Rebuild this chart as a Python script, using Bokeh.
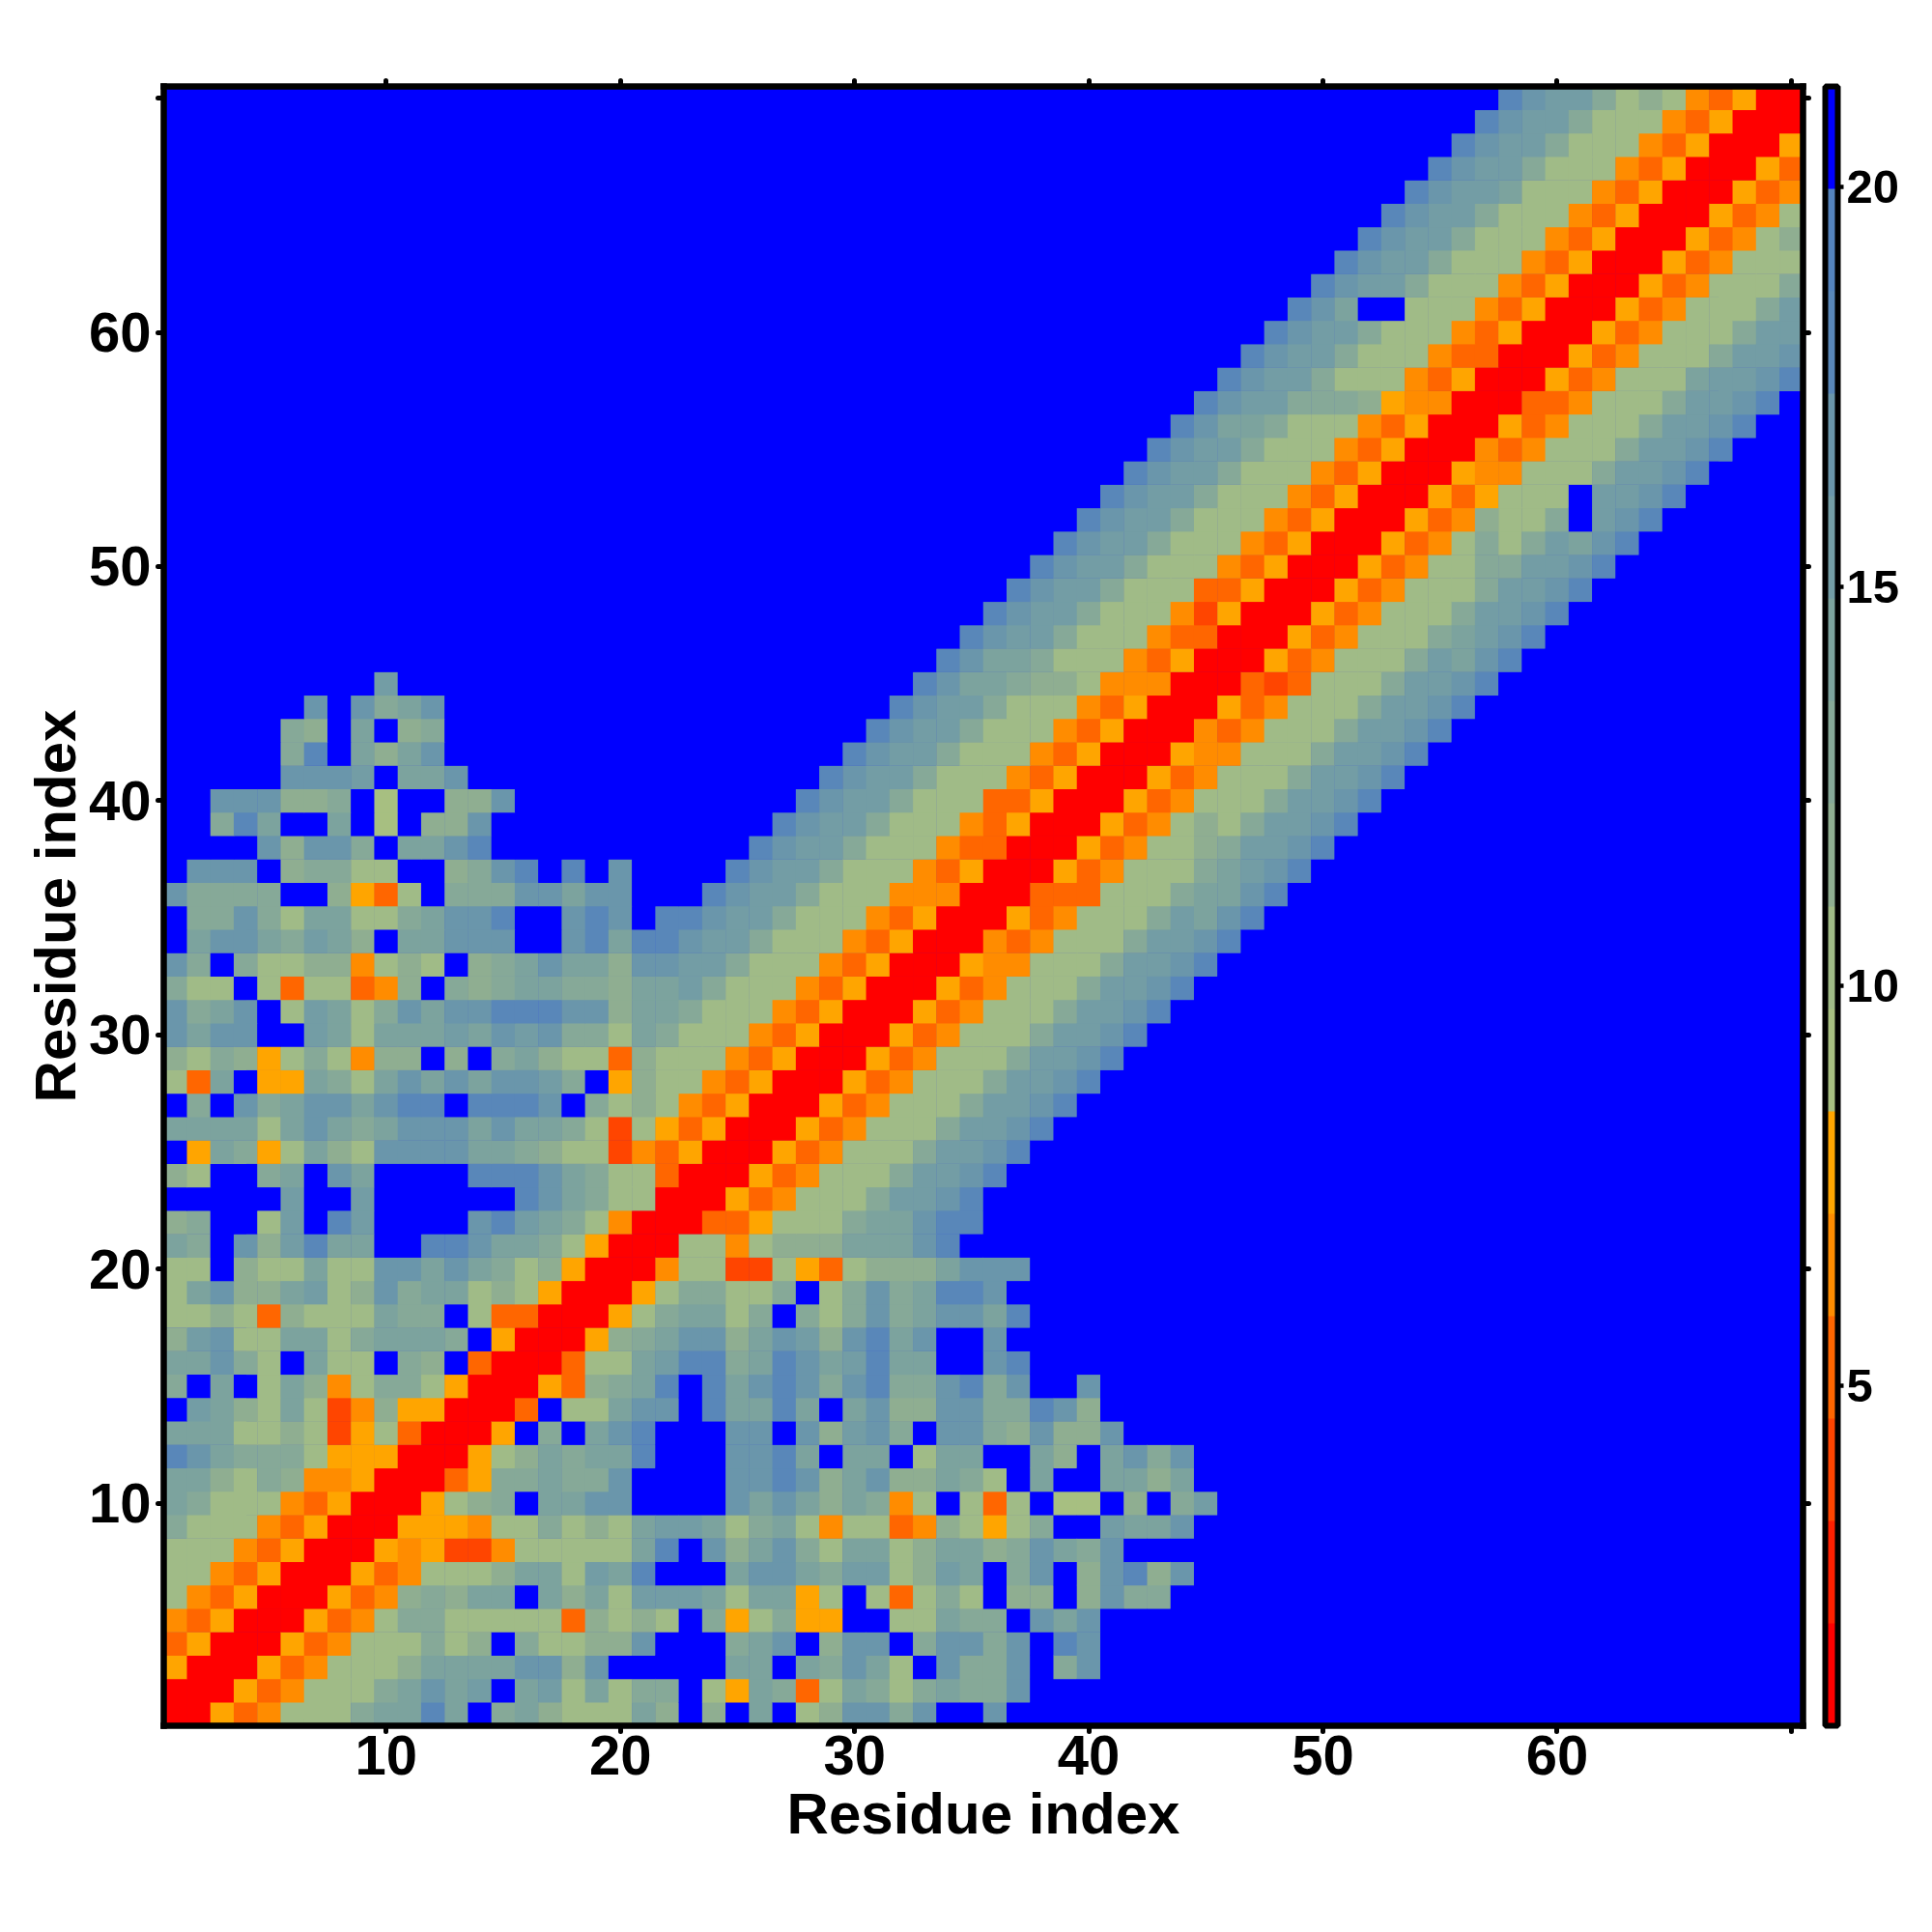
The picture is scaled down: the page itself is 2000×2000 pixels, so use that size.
from bokeh.plotting import figure
from bokeh.embed import file_html
from bokeh.resources import INLINE
from bokeh.models import (ColumnDataSource, LinearColorMapper, ColorBar, FixedTicker,
                          LinearAxis, Range1d)
from bokeh.transform import transform

# Residue-residue distance levels, lower triangle, row y = 1..70, columns x = 1..y.
# Each character is the colour-level index of a cell (f = beyond cutoff).
F = "f"
ROWS = [
 "0", "00", "500", "3500", "43500", "743500", "7743500", "77743500", "977743500", "a977743500",
 "aa879844500", "dca999755500", "aaa7787257300", "fba87a72485500", "9faf7a847997500",
 "aac97fa77f98f300", "8bc77aa79aaa9f500", "778738777a99f73300", "7ac88ab78c9aa787500",
 "77f877a77ccaca978500", "a9fc8bdaaffddcaa97500", "89ff7bfdbffffcdba97400",
 "fffffbffbffffffdca97700", "87ff9afcaffffdddca977300",
 "f5a95"+"7a87c"+"cccaa"+"98772"+"43500",
 "aaaa7"+"aca9a"+"cccac"+"aa972"+"75"+"3"+"5"+"00",
 "f9fc9"+"accac"+"ddfdd"+"dcf97"+"87435"+"00",
 "73af5"+"5a97a"+"cacac"+"cb9f5"+"877"+"435"+"00",
 "87985"+"79748"+"8f8f9"+"a8773"+"87"+"77"+"435"+"00",
 "caccf"+"fba7a"+"aabac"+"bc997"+"a9"+"777"+"435"+"00",
 "c9acf"+"7ba79"+"caccd"+"ddcc8"+"aa"+"9"+"777"+"435"+"00",
 "977f7"+"37734"+"8f989"+"aa998"+"aa"+"b"+"9"+"777"+"435"+"00",
 "c9f97"+"78847"+"87f89"+"acaa8"+"cc"+"bb"+"9"+"777"+"435"+"00",
 "facca"+"9ba8f"+"aaccc"+"ffcda"+"dd"+"c"+"bb"+"9"+"777"+"435"+"00",
 "f99c9"+"7aa77"+"9accd"+"ffcdc"+"f"+"dd"+"c"+"bb"+"9"+"777"+"435"+"00",
 "c9999"+"ff853"+"7f999"+"ccacc"+"fff"+"d"+"c"+"bb"+"9"+"777"+"444"+"00",
 "fcccf"+"89977"+"ff89c"+"dfdfc"+"ffff"+"d"+"c"+"bb"+"9"+"777"+"435"+"00",
 "ffffc"+"8cc9f"+"aacd"+F*11+"dcbb9"+"777"+"4"+"33"+"00",
 "ff9da"+"ffaf6"+"f88c"+F*12+"dcbb9"+"777"+"435"+"00",
 "ffccc"+"889f6"+"ff88c"+F*12+"dcbb9"+"777"+"33"+"5"+"00",
 "fffff"+"cccbf"+"aac"+F*15+"dcbb9"+"777"+"435"+"00",
 "fffff"+"9dfa8"+"ac"+F*17+"dcbb9"+"777"+"435"+"00",
 "fffff"+"98faf"+"89"+F*18+"dcbb9"+"777"+"435"+"00",
 "ffffff"+"cfc9ac"+F*19+"dcbb9"+"777"+"435"+"00",
 F*9+"b"+F*22+"d"+"c"+"aa"+"9"+"88"+"7"+"444"+"00",
 F*33+"dcaa9"+"777"+"435"+"00",
 F*34+"dcbb9"+"777"+"4"+"33"+"00",
 F*35+"dcbb9"+"777"+"4"+"2"+"5"+"00",
 F*36+"dcbb9"+"777"+"33"+"5"+"00",
 F*37+"dcbb9"+"777"+"435"+"00",
 F*38+"dcbb9"+"777"+"435"+"00",
 F*39+"dcbb9"+"777"+"435"+"00",
 F*40+"dcbb9"+"777"+"435"+"00",
 F*41+"dcbb9"+"777"+"435"+"00",
 F*42+"dcbb9"+"777"+"435"+"00",
 F*43+"dcaa9"+"777"+"435"+"00",
 F*44+"dcbb9"+"99"+"8"+"5"+"44"+"00",
 F*45+"dcbb9"+"777"+"435"+"00",
 F*46+"dcbb9"+"777"+"4"+"33"+"00",
 F*47+"dcbb9"+"777"+"435"+"00",
 F*48+"dca"+"ff"+"777"+"435"+"00",
 F*49+"dcbb9"+"777"+"435"+"00",
 F*50+"dcbb9"+"777"+"435"+"00",
 F*51+"dcbb9"+"777"+"435"+"00",
 F*52+"dcbb9"+"777"+"435"+"00",
 F*53+"dcbba"+"777"+"435"+"00",
 F*54+"dcbb9"+"777"+"435"+"00",
 F*55+"dcbb9"+"777"+"435"+"00",
 F*56+"dcbb9"+"777"+"435"+"00",
 F*57+"dcbb9"+"787"+"435"+"00",
]

PALETTE = ["#ff0000", "#ff2000", "#ff4500", "#ff6600", "#ff8c00", "#ffa500",
           "#a7bf81", "#a0bb87", "#8fae91", "#86a998", "#7ca39e", "#739da5",
           "#6a96ab", "#5987b9", "#5483bd", "#0000ff"]
D_LOW, D_HIGH = 0.74, 21.26
X_TICKS = [10, 20, 30, 40, 50, 60, 70]
CB_TICKS = [5, 10, 15, 20]
TITLE = "Residue index"

step = (D_HIGH - D_LOW) / len(PALETTE)
xs, ys, ds = [], [], []
for yi, row in enumerate(ROWS, start=1):
    assert len(row) == yi, (yi, len(row))
    for xi, ch in enumerate(row, start=1):
        d = D_LOW + (int(ch, 16) + 0.5) * step
        xs.append(xi); ys.append(yi); ds.append(d)
        if xi != yi:
            xs.append(yi); ys.append(xi); ds.append(d)

source = ColumnDataSource(dict(x=xs, y=ys, d=ds))
mapper = LinearColorMapper(palette=PALETTE, low=D_LOW, high=D_HIGH)

FONT = "Liberation Sans"
p = figure(width=1990, height=1990, frame_width=1697, frame_height=1697,
           x_range=Range1d(0.5, 70.5), y_range=Range1d(0.5, 70.5),
           output_backend="svg", toolbar_location=None,
           min_border_left=169, min_border_top=89, min_border_right=10, min_border_bottom=10,
           outline_line_color=None, background_fill_color="#0000ff")
p.grid.visible = False
p.rect("x", "y", 1.02, 1.02, source=source, fill_color=transform("d", mapper), line_color=None)

def style_axis(ax, labels):
    ax.ticker = FixedTicker(ticks=X_TICKS)
    ax.axis_line_color = "black"
    ax.axis_line_width = 6.5
    ax.axis_line_cap = "square"
    ax.major_tick_line_color = "black"
    ax.major_tick_line_width = 5
    ax.major_tick_line_cap = "round"
    ax.major_tick_in = 0
    ax.major_tick_out = 6
    ax.minor_tick_line_color = None
    if labels:
        ax.major_label_overrides = {70: ""}
        ax.major_label_text_font = FONT
        ax.major_label_text_font_style = "bold"
        ax.major_label_text_font_size = "58px"
        ax.major_label_text_color = "black"
        ax.axis_label = TITLE
        ax.axis_label_text_font = FONT
        ax.axis_label_text_font_style = "bold"
        ax.axis_label_text_font_size = "60px"
        ax.axis_label_text_color = "black"
    else:
        ax.major_label_text_font_size = "0px"
        ax.major_label_text_color = None

style_axis(p.xaxis[0], True)
style_axis(p.yaxis[0], True)
p.xaxis[0].major_label_standoff = 4
p.xaxis[0].axis_label_standoff = 4
p.yaxis[0].major_label_standoff = 7
p.yaxis[0].major_label_orientation = "horizontal"
p.yaxis[0].axis_label_standoff = -2

top = LinearAxis(); style_axis(top, False); top.major_label_standoff = 0
right = LinearAxis(); style_axis(right, False); right.major_label_standoff = 0
p.add_layout(top, "above")
p.add_layout(right, "right")

cb = ColorBar(color_mapper=mapper, ticker=FixedTicker(ticks=CB_TICKS), width=13, height=1697,
              margin=0, padding=0, location=(17, 0),
              bar_line_color="black", bar_line_width=6,
              major_tick_line_color="black", major_tick_line_width=4.5,
              major_tick_in=0, major_tick_out=6,
              minor_tick_line_color=None, label_standoff=3,
              major_label_text_font=FONT, major_label_text_font_style="bold",
              major_label_text_font_size="49px", major_label_text_color="black",
              major_label_text_align="left", major_label_text_baseline="middle")
p.add_layout(cb, "right")

open("out.html", "w").write(file_html(p, INLINE))
